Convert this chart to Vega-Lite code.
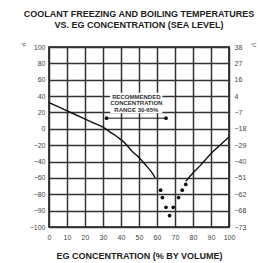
{
  "$schema": "https://vega.github.io/schema/vega-lite/v6.json",
  "width": 180,
  "height": 180,
  "autosize": "none",
  "padding": {"left": 49, "top": 47, "right": 32, "bottom": 36},
  "background": "white",
  "title": {
    "text": ["COOLANT FREEZING AND BOILING TEMPERATURES", "VS. EG CONCENTRATION (SEA LEVEL)"],
    "font": "Liberation Sans",
    "fontSize": 9,
    "fontWeight": "bold",
    "color": "#222",
    "lineHeight": 11,
    "offset": 12,
    "anchor": "middle",
    "frame": "group"
  },
  "config": {
    "view": {"stroke": "#111", "strokeWidth": 1.6},
    "axis": {
      "labelFont": "Liberation Sans",
      "labelColor": "#444",
      "labelFontSize": 7,
      "labelOverlap": false,
      "gridColor": "#333",
      "gridWidth": 1.5,
      "gridOpacity": 1,
      "domain": false,
      "ticks": false
    }
  },
  "datasets": {
    "curve": [
      {"pct": 0, "temp": 32, "part": "a"},
      {"pct": 5, "temp": 27, "part": "a"},
      {"pct": 11, "temp": 21, "part": "a"},
      {"pct": 18, "temp": 14, "part": "a"},
      {"pct": 25, "temp": 7, "part": "a"},
      {"pct": 30, "temp": 2, "part": "a"},
      {"pct": 34, "temp": -4, "part": "a"},
      {"pct": 38, "temp": -10, "part": "a"},
      {"pct": 42, "temp": -17, "part": "a"},
      {"pct": 46, "temp": -27, "part": "a"},
      {"pct": 50, "temp": -35, "part": "a"},
      {"pct": 54, "temp": -45, "part": "a"},
      {"pct": 57, "temp": -53, "part": "a"},
      {"pct": 59, "temp": -60, "part": "a"},
      {"pct": 76, "temp": -64, "part": "b"},
      {"pct": 80, "temp": -54, "part": "b"},
      {"pct": 84, "temp": -45, "part": "b"},
      {"pct": 88, "temp": -35, "part": "b"},
      {"pct": 92, "temp": -26, "part": "b"},
      {"pct": 96, "temp": -18, "part": "b"},
      {"pct": 100, "temp": -10, "part": "b"}
    ],
    "dots": [
      {"pct": 62, "temp": -75},
      {"pct": 63, "temp": -82},
      {"pct": 65, "temp": -88},
      {"pct": 67, "temp": -93},
      {"pct": 69, "temp": -88},
      {"pct": 72, "temp": -82},
      {"pct": 74, "temp": -75},
      {"pct": 76, "temp": -68}
    ],
    "range": [
      {"pct": 32, "temp": 13},
      {"pct": 65, "temp": 13}
    ],
    "box": [
      {"pct": 34, "pct2": 63, "temp": 19, "temp2": 44}
    ],
    "label": [
      {"pct": 48.5, "temp": 39, "text": "RECOMMENDED\nCONCENTRATION\nRANGE 30-65%"}
    ]
  },
  "encoding": {
    "x": {"field": "pct", "type": "quantitative", "scale": {"domain": [0, 100], "nice": false, "zero": false},
      "axis": {"values": [0,10,20,30,40,50,60,70,80,90,100], "grid": true, "title": "EG CONCENTRATION (% BY VOLUME)",
        "titleFont": "Liberation Sans", "titleFontSize": 9, "titleFontWeight": "bold", "titleColor": "#222",
        "titlePadding": 11, "labelPadding": 6, "labelFlush": false, "labelOverlap": false}}
  },
  "resolve": {"axis": {"y": "independent"}},
  "layer": [
    {
      "data": {"name": "box"},
      "mark": {"type": "rect", "fill": "white"},
      "encoding": {
        "x2": {"field": "pct2"},
        "y": {"field": "temp", "type": "quantitative",
          "scale": {"domain": [-100, -90, -80, 100], "range": [180, 163.64, 147.27, 0], "nice": false, "zero": false},
          "axis": {"orient": "left", "values": [100,80,60,40,20,0,-20,-40,-60,-80,-90,-100], "labelPadding": 4,
            "title": "°F", "titleAngle": 0, "titleFontSize": 5, "titleFont": "Liberation Sans", "titleColor": "#444",
            "titleFontWeight": "normal", "titleX": -26, "titleY": 0, "titleAlign": "center"}},
        "y2": {"field": "temp2"}
      }
    },
    {
      "data": {"name": "label"},
      "mark": {"type": "text", "font": "Liberation Sans", "fontSize": 6, "fontWeight": "bold", "color": "#333", "lineBreak": "\n", "lineHeight": 6.5, "baseline": "middle", "align": "center"},
      "encoding": {
        "y": {"field": "temp", "type": "quantitative",
          "axis": {"orient": "right", "values": [100,80,60,40,20,0,-20,-40,-60,-80,-90,-100], "grid": false, "labelPadding": 5,
            "labelExpr": "format(round((datum.value - 32) * 5 / 9), 'd')",
            "title": "°C", "titleAngle": 0, "titleFontSize": 5, "titleFont": "Liberation Sans", "titleColor": "#444",
            "titleFontWeight": "normal", "titleX": 24, "titleY": 0, "titleAlign": "center"}},
        "text": {"field": "text"}
      }
    },
    {
      "data": {"name": "range"},
      "mark": {"type": "line", "color": "#111", "strokeWidth": 1},
      "encoding": {
        "y": {"field": "temp", "type": "quantitative", "axis": null}
      }
    },
    {
      "data": {"name": "range"},
      "mark": {"type": "point", "filled": true, "color": "#111", "size": 14, "opacity": 1},
      "encoding": {
        "y": {"field": "temp", "type": "quantitative", "axis": null}
      }
    },
    {
      "data": {"name": "curve"},
      "mark": {"type": "line", "color": "#111", "strokeWidth": 1.4, "interpolate": "monotone"},
      "encoding": {
        "y": {"field": "temp", "type": "quantitative", "axis": null},
        "detail": {"field": "part"}
      }
    },
    {
      "data": {"name": "dots"},
      "mark": {"type": "circle", "color": "#111", "size": 14, "opacity": 1},
      "encoding": {
        "y": {"field": "temp", "type": "quantitative", "axis": null}
      }
    }
  ]
}
